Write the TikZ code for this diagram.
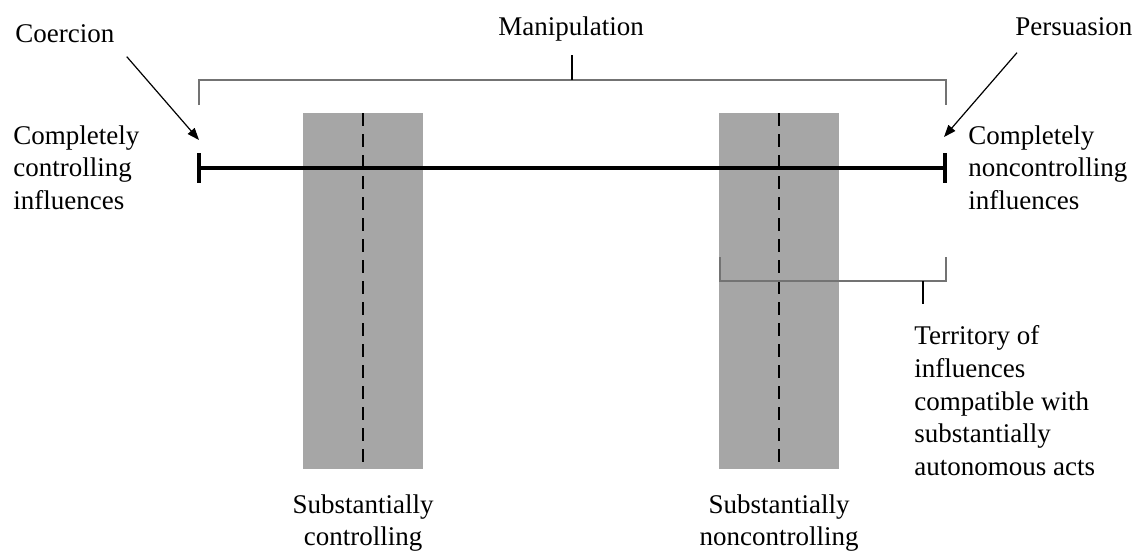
\documentclass[tikz,border=0pt]{standalone}
\usepackage{fontspec}
\setmainfont{Liberation Serif}
\usetikzlibrary{arrows.meta}

\begin{document}
\begin{tikzpicture}[x=0.5pt, y=-0.5pt,
  lbl/.style={font=\fontsize{13.5}{16.4}\selectfont, inner sep=0pt},
  band/.style={fill=black!35, draw=none},
  brk/.style={draw=black!55, line width=0.75pt},
  tick/.style={draw=black, line width=0.6pt},
  pointer/.style={draw=black, line width=0.6pt, -{Triangle[length=6pt, width=4.5pt]}}]
  \useasboundingbox (0,0) rectangle (1138,552);

  % shaded bands with dashed centre lines
  \foreach \xa/\xm/\xb in {303/363/423, 719/779/839}
  {
  \fill[band] (\xa, 113) rectangle (\xb, 469);
  \draw[black, line width=1.4pt, dash pattern=on 6.5pt off 4pt] (\xm, 113) -- (\xm, 469);
  }

  % continuum
  \coordinate (lend) at (199, 168);
  \coordinate (rend) at (945, 168);
  \draw[black, line width=1.8pt] (lend) -- (rend);
  \draw[black, line width=1.8pt] (199, 153) -- (199, 183);
  \draw[black, line width=1.8pt] (945, 153) -- (945, 183);

  % manipulation bracket
  \node[lbl, anchor=base] (manip) at (571, 35) {Manipulation};
  \coordinate (mtick) at (572, 55);
  \draw[brk] (199, 105) -- (199, 80) -- (946, 80) -- (946, 105);
  \draw[tick] (mtick) -- (572, 80);

  % territory bracket
  \coordinate (ttick) at (923, 304);
  \draw[brk] (720, 257) -- (720, 281) -- (946, 281) -- (946, 257);
  \draw[tick] (923, 281) -- (ttick);

  % labels
  \node[lbl, anchor=base west] (coerc) at (15, 42) {Coercion};
  \node[lbl, anchor=base west] (persu) at (1015, 35) {Persuasion};
  \node[lbl, anchor=north west, align=left] (cc) at (13, 125)
    {Completely\\controlling\\influences};
  \node[lbl, anchor=north west, align=left] (cn) at (968, 125)
    {Completely\\noncontrolling\\influences};
  \node[lbl, anchor=north west, align=left] (terr) at (914, 325)
    {Territory of\\influences\\compatible with\\substantially\\autonomous acts};
  \node[lbl, anchor=north, align=center] (sc) at (363, 494)
    {Substantially\\controlling};
  \node[lbl, anchor=north, align=center] (sn) at (779, 494)
    {Substantially\\noncontrolling};

  % pointers
  \coordinate (ctip) at (199, 140);
  \coordinate (ptip) at (944, 137);
  \draw[pointer] (coerc.south east) ++(12, 14) -- (ctip);
  \draw[pointer] (persu.south west) ++(2, 17) -- (ptip);

\end{tikzpicture}
\end{document}
